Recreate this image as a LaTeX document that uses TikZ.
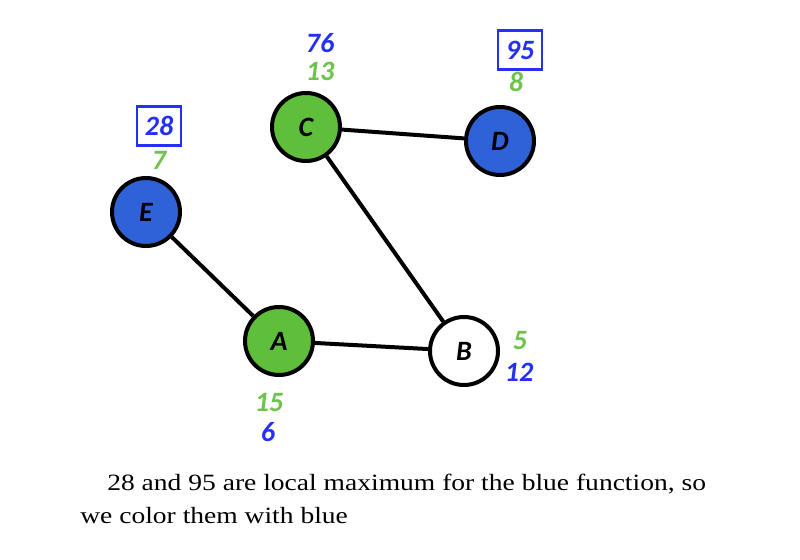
\documentclass[tikz,border=0pt]{standalone}
\usepackage{fontspec}
\setmainfont{Liberation Serif}
\newfontfamily\lblfont{Carlito}
\definecolor{ngreen}{HTML}{5FBE3A}
\definecolor{nblue}{HTML}{2F62D6}
\definecolor{lgreen}{HTML}{6CC44A}
\definecolor{lblue}{HTML}{2430F5}
\begin{document}
\begin{tikzpicture}[x=0.75pt,y=-0.75pt,
  vertex/.style={circle,draw=black,line width=3pt,minimum size=51pt,inner sep=0pt,
    font=\lblfont\bfseries\itshape\fontsize{21}{21}\selectfont},
  edge/.style={line width=3pt,black},
  glab/.style={text=lgreen,font=\lblfont\bfseries\itshape\fontsize{21}{21}\selectfont,inner sep=0pt},
  blab/.style={text=lblue,font=\lblfont\bfseries\itshape\fontsize{21}{21}\selectfont,inner sep=0pt},
  bbox/.style={blab,draw=lblue,line width=2.2pt,minimum width=33pt,minimum height=29pt},
  caption/.style={font=\fontsize{17.5}{24.75}\selectfont,anchor=base west,inner sep=0pt,xscale=1.18}]
\useasboundingbox (0,0) rectangle (800,560);
\fill[white] (0,0) rectangle (800,560);
% nodes
\node[vertex,fill=ngreen] (C) at (306,127) {C};
\node[vertex,fill=nblue] (D) at (500,141) {D};
\node[vertex,fill=nblue] (E) at (146,212) {E};
\node[vertex,fill=ngreen] (A) at (279,341) {A};
\node[vertex,fill=white] (B) at (464,351) {B};
% edges
\draw[edge] (C) -- (D);
\draw[edge] (C) -- (B);
\draw[edge] (E) -- (A);
\draw[edge] (A) -- (B);
% labels
\node[blab] (c1) at (320,43) {76};
\node[glab] (c2) at (320,71) {13};
\node[bbox] (d1) at (520,50) {95};
\node[glab] (d2) at (516,82) {8};
\node[bbox] (e1) at (159,126) {28};
\node[glab] (e2) at (159,160) {7};
\node[glab] (b1) at (520,341) {5};
\node[blab] (b2) at (519,372) {12};
\node[glab] (a1) at (269,403) {15};
\node[blab] (a2) at (268,432) {6};
% caption
\node[caption] (t1) at (107,490) {28 and 95 are local maximum for the blue function, so};
\node[caption] (t2) at (80,523) {we color them with blue};
\end{tikzpicture}
\end{document}
